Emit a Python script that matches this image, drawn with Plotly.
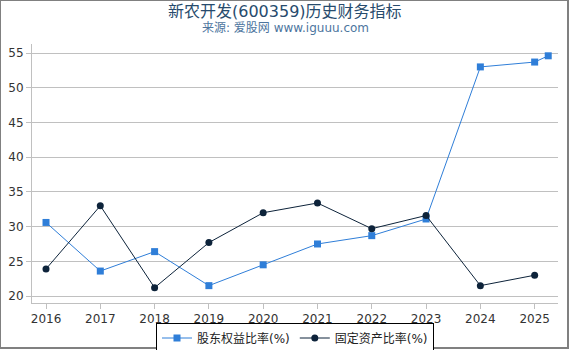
import plotly.graph_objects as go

years = [2016, 2017, 2018, 2019, 2020, 2021, 2022, 2023, 2024, 2025]
year_labels = [str(y) for y in years]

equity_x = [2016, 2017, 2018, 2019, 2020, 2021, 2022, 2023, 2024, 2025, 2025.25]
equity_ratio = [30.6, 23.6, 26.4, 21.5, 24.5, 27.5, 28.7, 31.1, 53.0, 53.7, 54.6]

fixed_x = [2016, 2017, 2018, 2019, 2020, 2021, 2022, 2023, 2024, 2025]
fixed_ratio = [23.9, 33.0, 21.2, 27.7, 32.0, 33.4, 29.7, 31.6, 21.5, 23.0]

W, H = 570, 350
ML, MR, MT, MB = 32, 12, 44, 47
PW, PH = W - ML - MR, H - MT - MB

font_family = "DejaVu Sans, Noto Sans CJK SC, sans-serif"

fig = go.Figure()
fig.add_trace(go.Scatter(
    x=equity_x, y=equity_ratio, name="股东权益比率(%)", mode="lines+markers",
    line=dict(color="#2f7ed8", width=1),
    marker=dict(symbol="square", size=7, color="#2f7ed8"),
))
fig.add_trace(go.Scatter(
    x=fixed_x, y=fixed_ratio, name="固定资产比率(%)", mode="lines+markers",
    line=dict(color="#0d233a", width=1),
    marker=dict(symbol="circle", size=7, color="#0d233a"),
))

def px_to_paper_x(px):
    return (px - ML) / PW

def px_to_paper_y(py):
    return 1 - (py - MT) / PH

fig.add_shape(type="rect", xref="paper", yref="paper",
              x0=px_to_paper_x(0), x1=px_to_paper_x(568),
              y0=px_to_paper_y(348), y1=px_to_paper_y(0),
              line=dict(color="#808080", width=2), fillcolor="rgba(0,0,0,0)")

fig.add_annotation(text="新农开发(600359)历史财务指标", xref="paper", yref="paper",
                   x=px_to_paper_x(285), y=px_to_paper_y(11), xanchor="center", yanchor="middle",
                   showarrow=False, font=dict(size=16, color="#274b6d", family=font_family))
fig.add_annotation(text="来源: 爱股网 www.iguuu.com", xref="paper", yref="paper",
                   x=px_to_paper_x(285), y=px_to_paper_y(28), xanchor="center", yanchor="middle",
                   showarrow=False, font=dict(size=12, color="#4d759e", family=font_family))

fig.update_layout(
    width=W, height=H,
    margin=dict(l=ML, r=MR, t=MT, b=MB, autoexpand=False),
    paper_bgcolor="white", plot_bgcolor="white",
    font=dict(family=font_family, size=12, color="#333333"),
    showlegend=True,
    legend=dict(
        orientation="h", x=0.5, xanchor="center", xref="paper",
        yref="container", y=1 - 322.5 / H, yanchor="top",
        bordercolor="#000000", borderwidth=1, bgcolor="white",
        font=dict(size=12, color="#222222", family=font_family),
        itemwidth=30, tracegroupgap=0,
    ),
    xaxis=dict(
        range=[2015.742, 2025.43], tickvals=years, ticktext=year_labels,
        showgrid=False, zeroline=False, showline=True, linecolor="#c0c0c0", linewidth=1,
        ticks="outside", ticklen=5, tickcolor="#c0c0c0",
        tickfont=dict(size=12, color="#333333"),
    ),
    yaxis=dict(
        range=[19.0, 56.3], tickvals=[20, 25, 30, 35, 40, 45, 50, 55],
        showgrid=True, gridcolor="#c0c0c0", gridwidth=1, zeroline=False,
        showline=True, linecolor="#c0c0c0", linewidth=1,
        ticks="outside", ticklen=5, tickcolor="#c0c0c0",
        tickfont=dict(size=12, color="#333333"),
    ),
)

fig.write_html("out.html")
